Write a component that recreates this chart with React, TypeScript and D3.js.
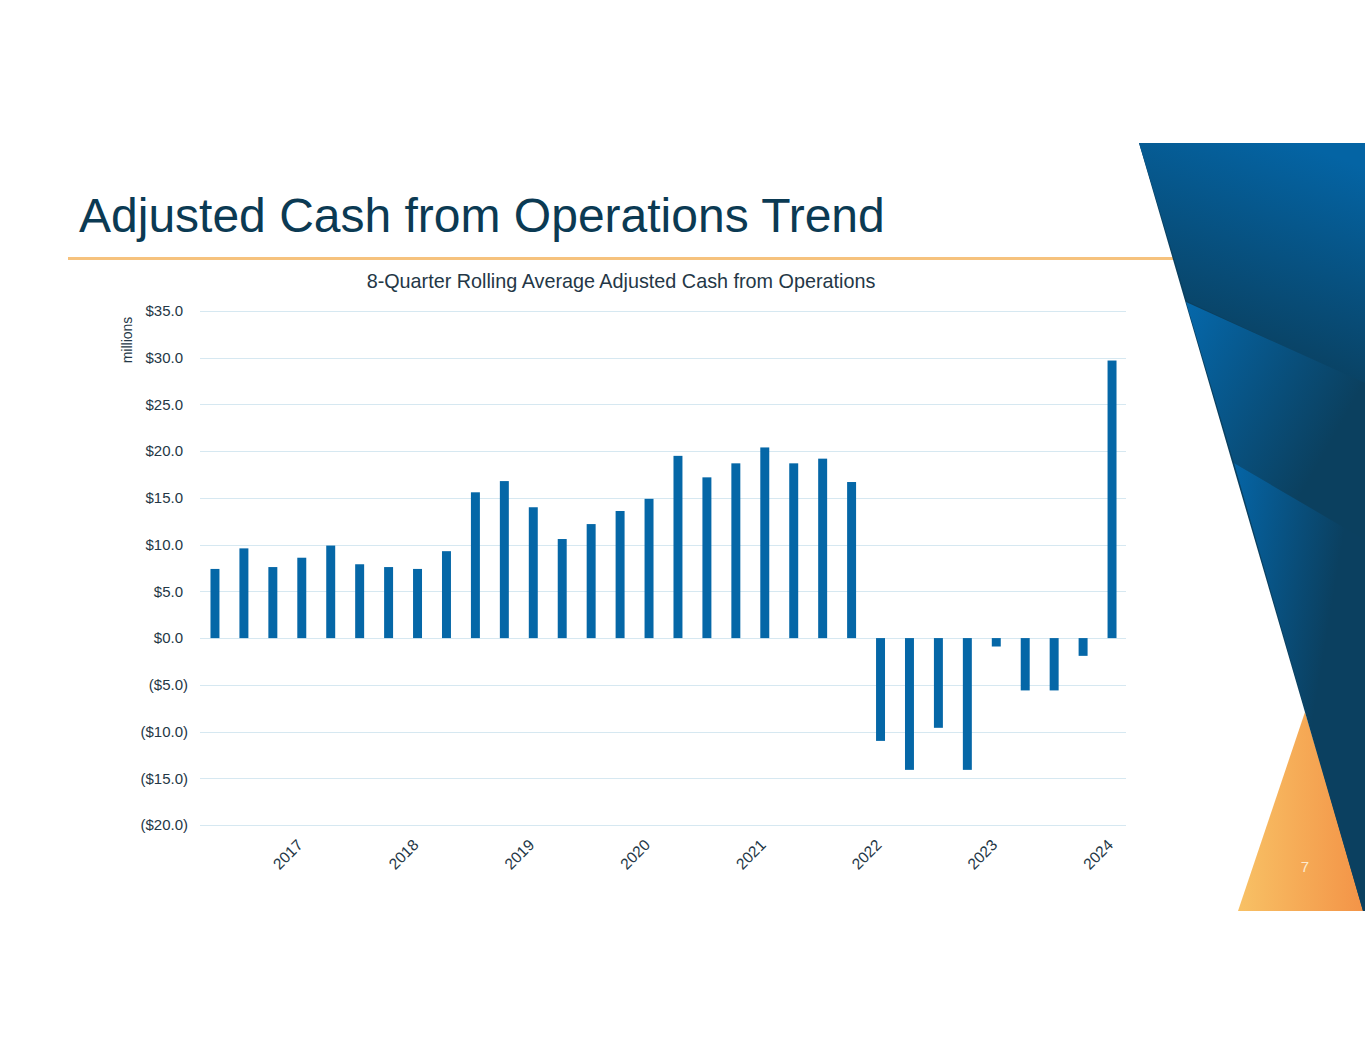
import * as d3 from "d3";
import { useEffect, useRef } from "react";

// quarters Q1 2017 .. Q4 2024
const years = ["2017", "2018", "2019", "2020", "2021", "2022", "2023", "2024"];
const quarters = years.flatMap((y) => ["Q1", "Q2", "Q3", "Q4"].map((q) => `${q} ${y}`));
const values = [
  7.4, 9.6, 7.6, 8.6, 9.9, 7.9, 7.6, 7.4,
  9.3, 15.6, 16.8, 14.0, 10.6, 12.2, 13.6, 14.9,
  19.5, 17.2, 18.7, 20.4, 18.7, 19.2, 16.7, -11.0,
  -14.1, -9.6, -14.1, -0.9, -5.6, -5.6, -1.9, 29.7,
];
const yTicks = [35, 30, 25, 20, 15, 10, 5, 0, -5, -10, -15, -20];

const FONT = "'Liberation Sans', Arial, sans-serif";
const NAVY = "#0b3a53";
const TEXT = "#243746";

const App = () => {
  const svgRef = useRef<SVGSVGElement>(null);

  useEffect(() => {
    const svg = d3.select(svgRef.current);
    svg.selectAll("*").remove();

    const defs = svg.append("defs");
    const grad = (id: string, x1: number, y1: number, x2: number, y2: number, c1: string, c2: string) => {
      const g = defs
        .append("linearGradient")
        .attr("id", id)
        .attr("x1", x1)
        .attr("y1", y1)
        .attr("x2", x2)
        .attr("y2", y2);
      g.append("stop").attr("offset", "0%").attr("stop-color", c1);
      g.append("stop").attr("offset", "100%").attr("stop-color", c2);
    };
    grad("g1", 0.7, 0, 0.4, 0.9, "#0464a4", "#0a3f5e");
    grad("g2", 0, 0, 0.8, 0.6, "#0568ab", "#0b405f");
    grad("g3", 0, 0, 0.7, 0.4, "#0565a6", "#0b4060");
    grad("gOrange", 0, 0, 1, 0, "#f8c165", "#f39347");

    // === Title + rule ===
    svg
      .append("text")
      .attr("x", 79)
      .attr("y", 232)
      .attr("font-family", FONT)
      .attr("font-size", 48)
      .attr("fill", NAVY)
      .text("Adjusted Cash from Operations Trend");

    svg
      .append("line")
      .attr("x1", 68)
      .attr("x2", 1200)
      .attr("y1", 258.5)
      .attr("y2", 258.5)
      .attr("stroke", "#f6c27d")
      .attr("stroke-width", 3);

    // === Decoration on the right ===
    svg
      .append("polygon")
      .attr("points", "1305,712 1238,911 1365,911")
      .attr("fill", "url(#gOrange)");
    svg
      .append("polygon")
      .attr("points", "1139,143 1365,143 1365,911 1363,911")
      .attr("fill", "#0a4060");
    svg
      .append("polygon")
      .attr("points", "1139,143 1365,143 1365,384 1187,301")
      .attr("fill", "url(#g1)");
    svg
      .append("polygon")
      .attr("points", "1186,302 1365,383 1365,540 1234,463")
      .attr("fill", "url(#g2)");
    svg
      .append("polygon")
      .attr("points", "1234,463 1365,540 1365,911 1363,911")
      .attr("fill", "url(#g3)");
    svg
      .append("text")
      .attr("x", 1305)
      .attr("y", 872)
      .attr("text-anchor", "middle")
      .attr("font-family", FONT)
      .attr("font-size", 15)
      .attr("fill", "#fdebd0")
      .text("7");

    // === Chart ===
    const x = d3.scaleBand().domain(quarters).range([200.5, 1126.5]).paddingInner(0.69).paddingOuter(0.345);
    const y = d3.scaleLinear().domain([-20, 35]).range([825, 311]);

    svg
      .append("text")
      .attr("x", 621)
      .attr("y", 288)
      .attr("text-anchor", "middle")
      .attr("font-family", FONT)
      .attr("font-size", 19.8)
      .attr("fill", TEXT)
      .text("8-Quarter Rolling Average Adjusted Cash from Operations");

    const grid = svg.append("g");
    yTicks.forEach((t) => {
      grid
        .append("line")
        .attr("x1", 200)
        .attr("x2", 1126)
        .attr("y1", Math.round(y(t)) + 0.5)
        .attr("y2", Math.round(y(t)) + 0.5)
        .attr("stroke", "#d6e8f1")
        .attr("stroke-width", 1);
    });

    const fmt = (v: number) => (v < 0 ? `($${Math.abs(v).toFixed(1)})` : `$${v.toFixed(1)}`);
    yTicks.forEach((t) => {
      svg
        .append("text")
        .attr("x", t < 0 ? 188 : 183)
        .attr("y", y(t))
        .attr("dy", "0.35em")
        .attr("text-anchor", "end")
        .attr("font-family", FONT)
        .attr("font-size", 15)
        .attr("fill", TEXT)
        .text(fmt(t));
    });

    svg
      .append("text")
      .attr("transform", `translate(${132},${340}) rotate(-90)`)
      .attr("text-anchor", "middle")
      .attr("font-family", FONT)
      .attr("font-size", 14)
      .attr("fill", TEXT)
      .text("millions");

    svg
      .append("g")
      .selectAll("rect")
      .data(values)
      .join("rect")
      .attr("x", (_, i) => x(quarters[i]) as number)
      .attr("width", x.bandwidth())
      .attr("y", (d) => y(Math.max(0, d)))
      .attr("height", (d) => Math.abs(y(d) - y(0)))
      .attr("fill", "#0567a7");

    // year labels at the 4th quarter of each year
    years.forEach((yr) => {
      const q = `Q4 ${yr}`;
      const cx = (x(q) as number) + x.bandwidth() / 2;
      svg
        .append("text")
        .attr("transform", `translate(${cx + 2},${846}) rotate(-45)`)
        .attr("text-anchor", "end")
        .attr("font-family", FONT)
        .attr("font-size", 15.5)
        .attr("fill", TEXT)
        .text(yr);
    });
  }, []);

  return (
    <svg
      ref={svgRef}
      width={1365}
      height={1055}
      style={{ position: "absolute", left: 0, top: 0, background: "#fff" }}
    />
  );
};

export default App;
